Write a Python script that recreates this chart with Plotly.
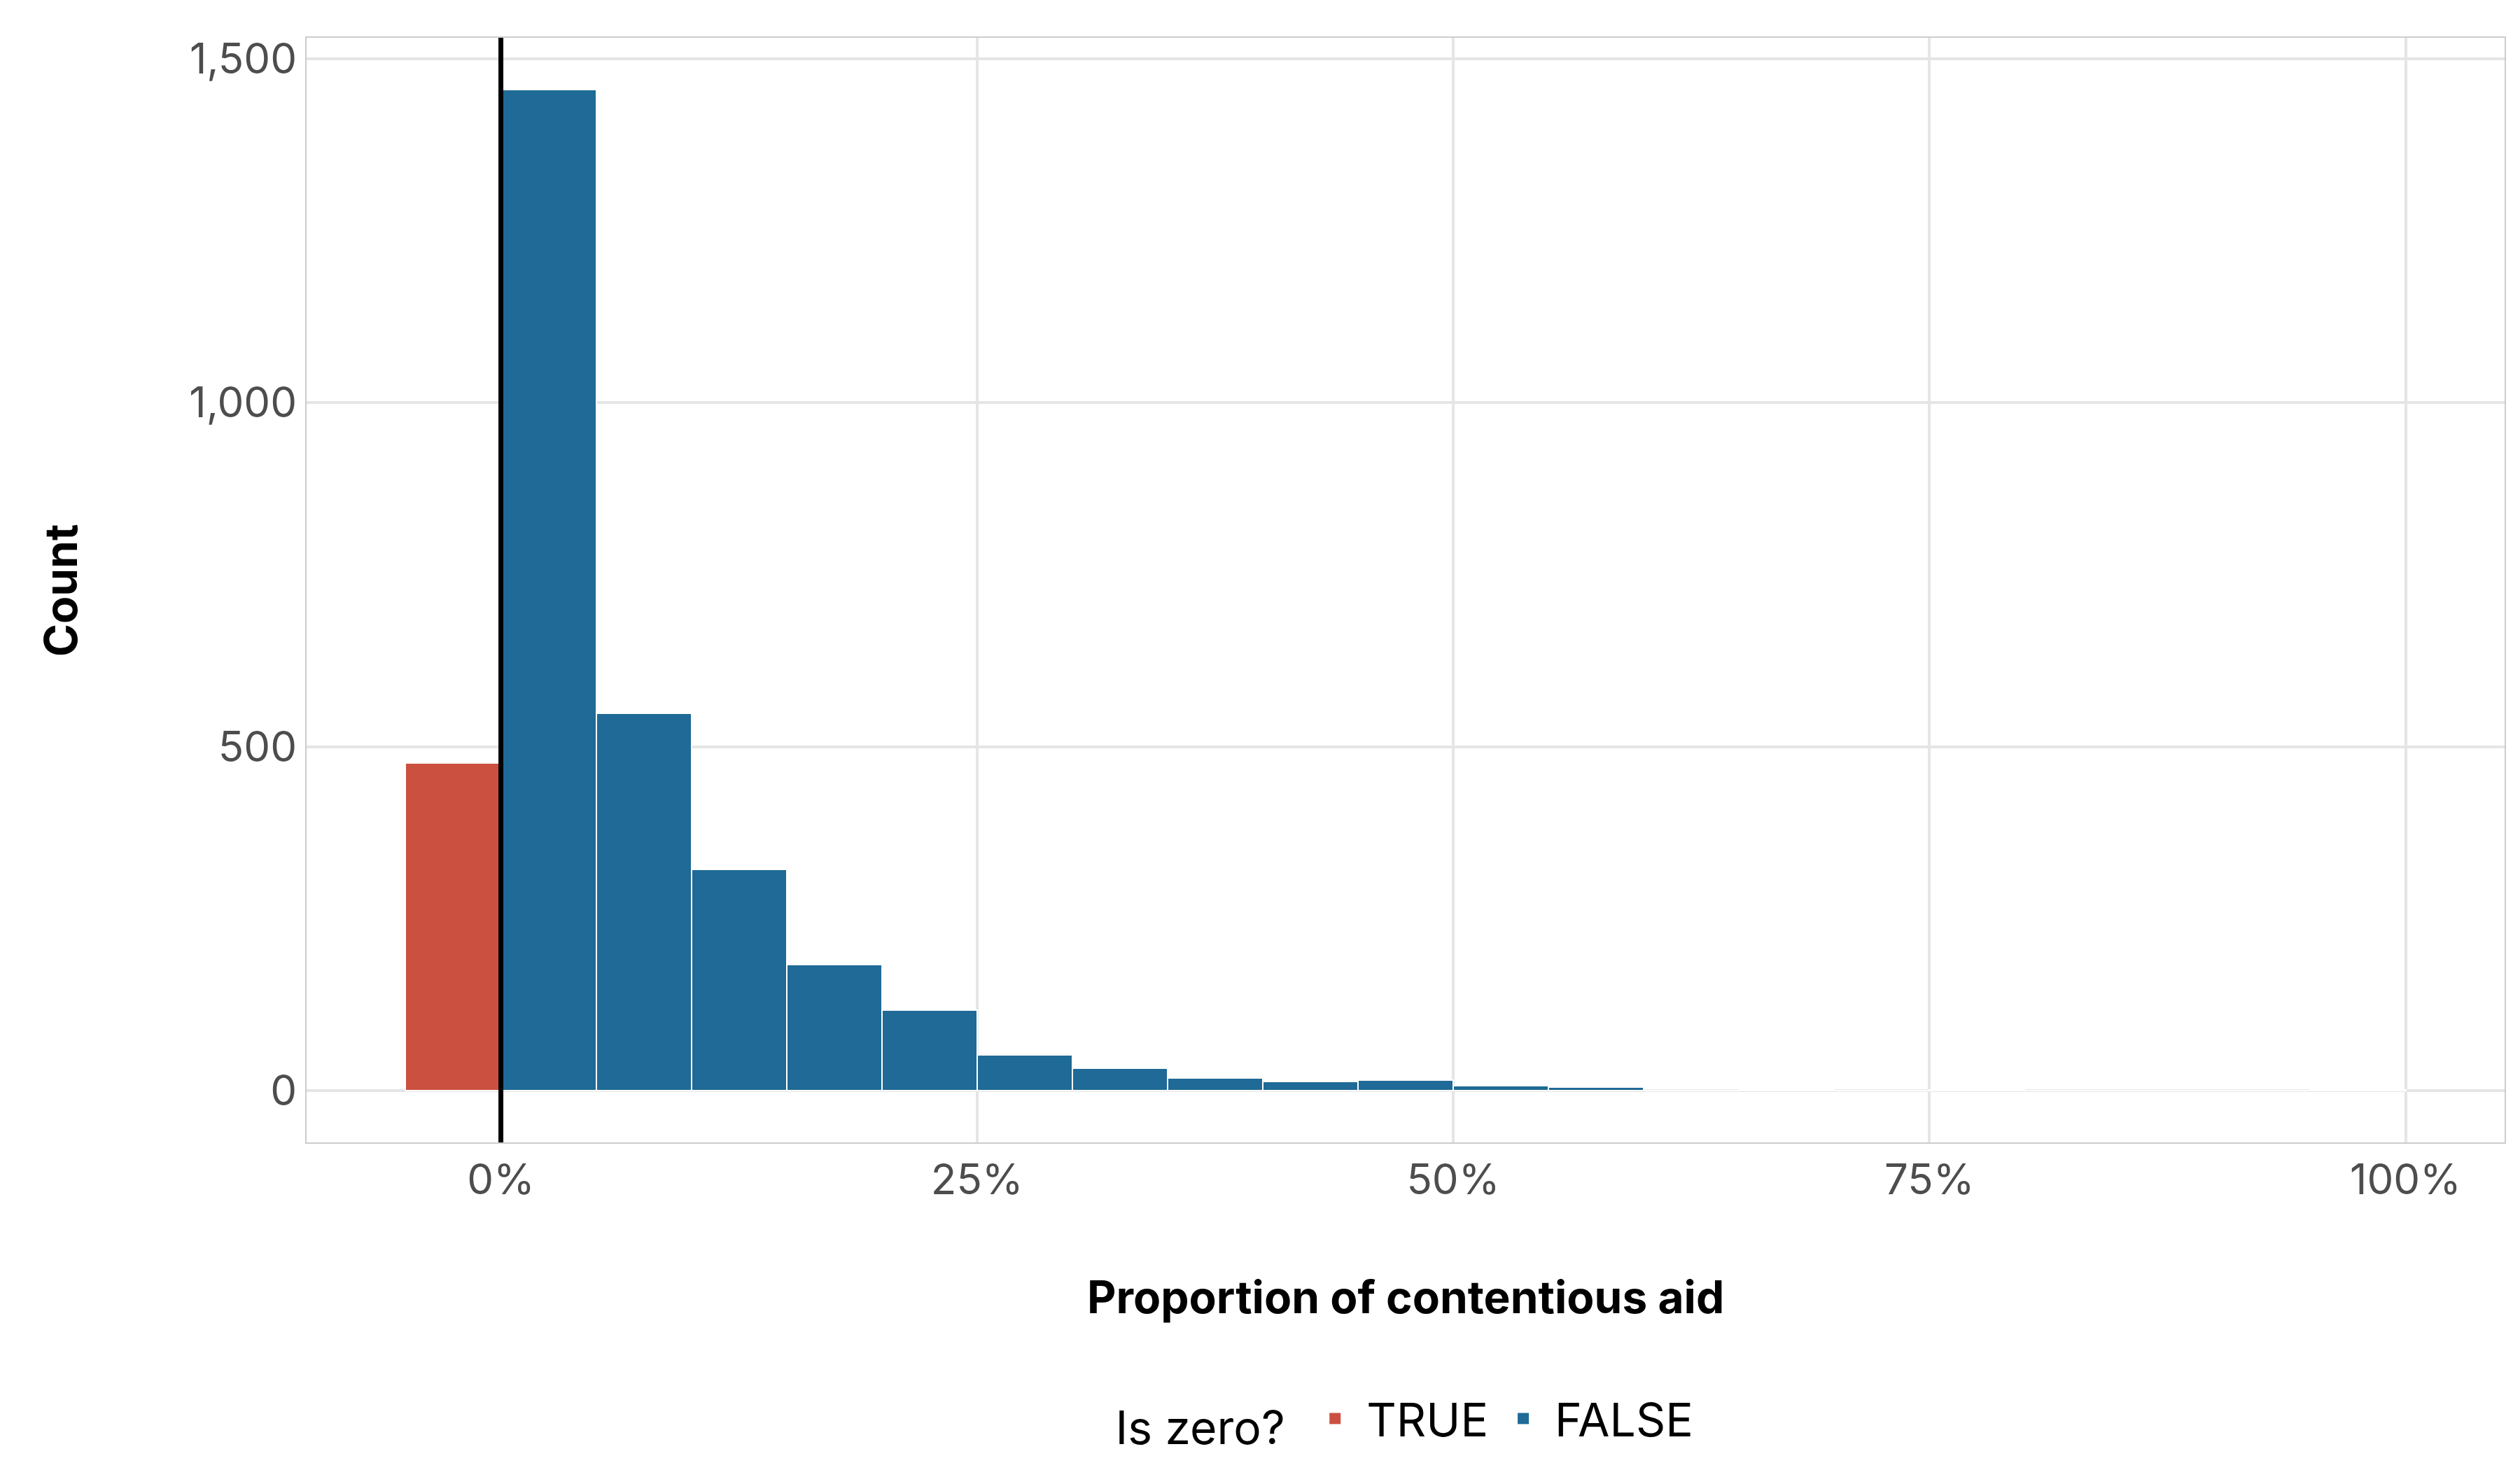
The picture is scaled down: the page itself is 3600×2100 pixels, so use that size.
import plotly.graph_objects as go

# bin centres (proportion) and counts
true_x = [-0.025]
true_counts = [476]

false_x = [0.025, 0.075, 0.125, 0.175, 0.225, 0.275, 0.325, 0.375, 0.425, 0.475,
           0.525, 0.575, 0.625, 0.675, 0.725, 0.775, 0.825, 0.875, 0.925, 0.975]
false_counts = [1455, 549, 322, 183, 117, 52, 33, 19, 14, 16,
                7, 5, 0, 1, 0, 1, 0, 0, 0, 1]

RED = "#CB5040"
BLUE = "#1F6A96"
FONT = "Inter"

fig = go.Figure()
fig.add_trace(go.Bar(x=true_x, y=true_counts, width=0.05, name="TRUE", showlegend=False,
                     marker=dict(color=RED, line=dict(color="white", width=2))))
fig.add_trace(go.Bar(x=false_x, y=false_counts, width=0.05, name="FALSE", showlegend=False,
                     marker=dict(color=BLUE, line=dict(color="white", width=2))))

# legend keys as big squares
for name, col in [("TRUE", RED), ("FALSE", BLUE)]:
    fig.add_trace(go.Scatter(x=[None], y=[None], mode="markers", name=name,
                             marker=dict(symbol="square", size=70, color=col)))

fig.add_vline(x=0, line=dict(color="black", width=7))

fig.update_layout(
    width=3600, height=2100,
    paper_bgcolor="white", plot_bgcolor="white",
    font=dict(family=FONT, color="#4D4D4D", size=56),
    margin=dict(l=430, r=30, t=46, b=476),
    bargap=0,
    legend=dict(orientation="h", x=0.5, xanchor="center", y=-0.25, yanchor="middle",
                font=dict(size=66, color="black"),
                title=dict(text="Is zero? ", font=dict(size=66, color="black")),
                itemwidth=80),
    xaxis=dict(range=[-0.102, 1.052], tickvals=[0, 0.25, 0.5, 0.75, 1.0],
               ticktext=["0%", "25%", "50%", "75%", "100%"],
               showgrid=True, gridcolor="#E5E5E5", gridwidth=4, zeroline=False,
               showline=True, mirror=True, linecolor="#CCCCCC", linewidth=2,
               ticks="", tickfont=dict(size=60)),
    yaxis=dict(range=[-75, 1530], tickvals=[0, 500, 1000, 1500],
               tickformat=",", showgrid=True, gridcolor="#E5E5E5", gridwidth=4, zeroline=False,
               showline=True, mirror=True, linecolor="#CCCCCC", linewidth=2,
               ticks="", tickfont=dict(size=60)),
    annotations=[
        dict(text="<b>Proportion of contentious aid</b>", x=0.5, y=-0.14, xref="paper", yref="paper",
             showarrow=False, yanchor="middle", font=dict(size=64, color="black")),
        dict(text="<b>Count</b>", x=-0.112, y=0.5, xref="paper", yref="paper", textangle=-90,
             showarrow=False, xanchor="center", font=dict(size=64, color="black")),
    ],
)

fig.write_html("out.html")
